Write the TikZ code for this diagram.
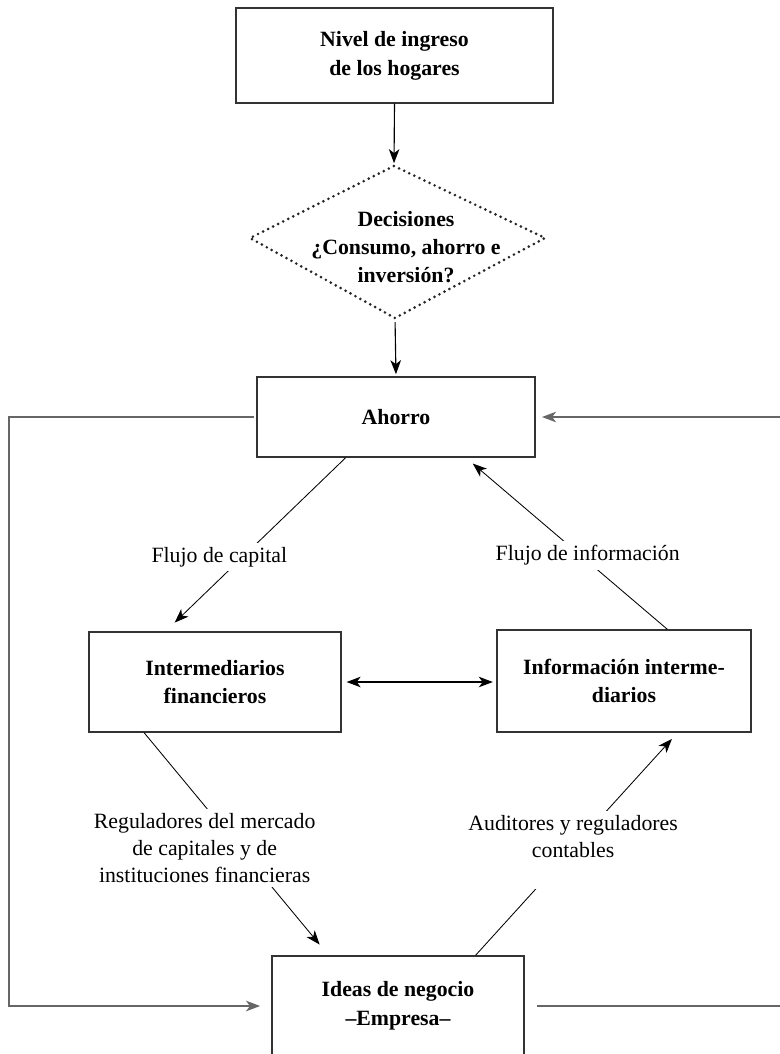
\documentclass[tikz,border=0pt]{standalone}
\usepackage{fontspec}
\setmainfont{Liberation Serif}
\usetikzlibrary{arrows.meta,calc}
\begin{document}
\begin{tikzpicture}[x=0.025cm, y=-0.025cm,
    >={Stealth[length=10pt,width=7.5pt,inset=2.8pt]},
    caja/.style={draw=black!80, line width=0.9pt, inner sep=0pt, align=center,
      font=\fontsize{15.5}{20.5}\selectfont\bfseries},
    etiqueta/.style={fill=white, inner sep=3pt, align=center,
      font=\fontsize{15.5}{19.5}\selectfont},
    punteado/.style={draw=black!85, line width=2.1pt, line cap=round, dash pattern=on 0pt off 4pt},
    linea/.style={line width=0.6pt},
    bucle/.style={draw=black!60, line width=1.2pt}]
  \useasboundingbox (0,0) rectangle (780,1054);
  \clip (0,0) rectangle (780,1054);
  \node[caja, minimum width=7.925cm, minimum height=2.375cm] (nivel) at (394.5,55.5) {Nivel de ingreso\\de los hogares};
  \coordinate (dtop) at (394,166);
  \coordinate (dder) at (545,238);
  \coordinate (dbot) at (395,318);
  \coordinate (dizq) at (250,238);
  \draw[punteado] (dtop) -- (dder) -- (dbot) -- (dizq) -- cycle;
  \node[align=center, font=\fontsize{15.5}{20}\selectfont\bfseries] (decision) at (406,247) {Decisiones\\¿Consumo, ahorro e\\inversión?};
  \node[caja, minimum width=6.95cm, minimum height=2cm] (ahorro) at (396,417) {Ahorro};
  \node[caja, minimum width=6.3cm, minimum height=2.5cm] (intermed) at (215,682) {Intermediarios\\financieros};
  \node[caja, minimum width=6.35cm, minimum height=2.55cm] (info) at (624,681) {Información interme-\\diarios};
  \node[caja, minimum width=6.3cm, minimum height=2.5cm] (ideas) at (398,1006) {Ideas de negocio\\–Empresa–};
  % flechas verticales
  \draw[->, line width=0.8pt, shorten >=2pt] (nivel.south) -- (dtop);
  \draw[->, line width=0.8pt, shorten <=3pt, shorten >=1.5pt] (dbot) -- (ahorro.north);
  % flujos
  \draw[->, linea, shorten >=9pt] ($(ahorro.south west)!0.32!(ahorro.south east)$)
    -- node[etiqueta, pos=0.574, xshift=-0.575cm] (flujocap) {Flujo de capital}
    ($(intermed.north west)!0.305!(intermed.north east)$);
  \draw[->, linea, shorten >=6.5pt] ($(info.north west)!0.67!(info.north east)$)
    -- node[etiqueta, pos=0.43, xshift=0.175cm] (flujoinf) {Flujo de información}
    ($(ahorro.south west)!0.75!(ahorro.south east)$);
  \draw[->, linea, shorten >=10pt] ($(intermed.south west)!0.22!(intermed.south east)$)
    -- node[etiqueta, pos=0.518, xshift=-0.875cm] (regul) {Reguladores del mercado\\de capitales y de\\instituciones financieras}
    ($(ideas.north west)!0.226!(ideas.north east)$);
  \draw[->, linea, shorten >=6pt] ($(ideas.north west)!0.806!(ideas.north east)$)
    -- node[etiqueta, pos=0.473, xshift=0.05cm] (audit) {Auditores y reguladores\\contables\\\mbox{}}
    ($(info.south west)!0.71!(info.south east)$);
  \draw[<->, line width=0.8pt, shorten <=3.5pt, shorten >=2.5pt] (intermed.east) -- (info.west |- intermed.east);
  % ciclo exterior
  \draw[->, bucle, shorten <=1.5pt, shorten >=8pt] (ahorro.west) -- ++(-247,0) |- (ideas.west);
  \draw[->, bucle, shorten <=9pt, shorten >=4.5pt] (ideas.east) -- ++(262,0) |- (ahorro.east);
\end{tikzpicture}
\end{document}
